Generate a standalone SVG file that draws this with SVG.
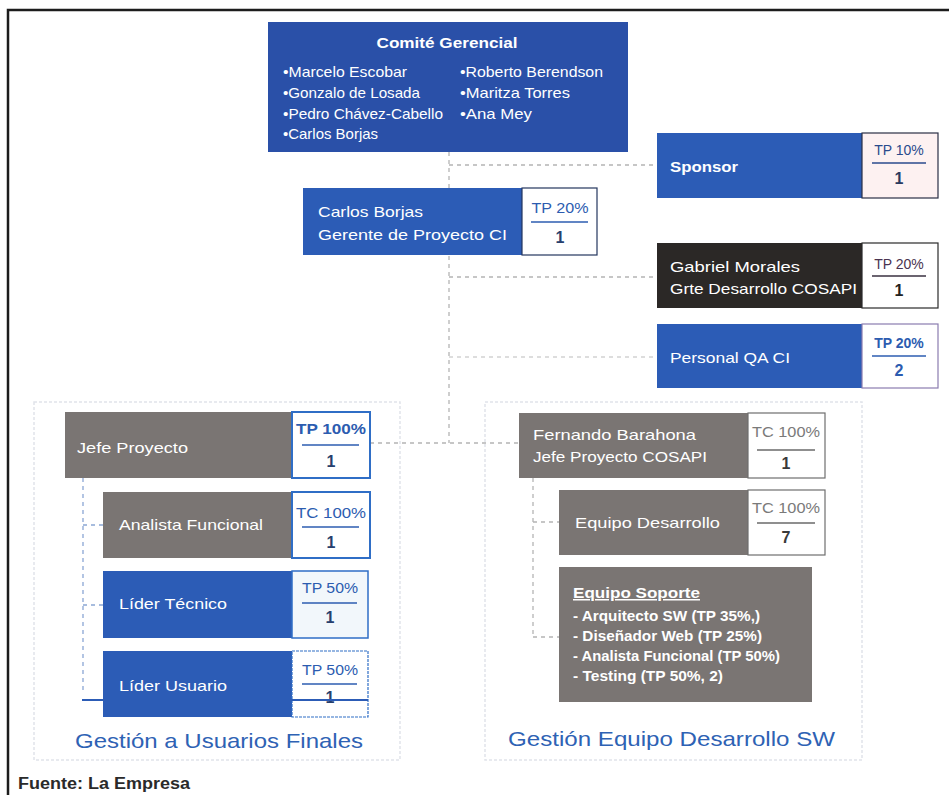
<svg xmlns="http://www.w3.org/2000/svg" width="949" height="795" viewBox="0 0 949 795">
  <style>
    .blue { fill: #2c5cb6; }
    .navy { fill: #2a50a8; }
    .dark { fill: #2b2826; }
    .grey { fill: #7a7573; }
    .lbl { font-family: "Liberation Sans", Arial, sans-serif; font-size: 15px; fill: #ffffff; }
    .lblb { font-family: "Liberation Sans", Arial, sans-serif; font-size: 15px; font-weight: bold; fill: #ffffff; }
    .tp { font-family: "Liberation Sans", Arial, sans-serif; font-size: 14px; text-anchor: middle; }
    .num { font-family: "Liberation Sans", Arial, sans-serif; font-size: 16px; font-weight: bold; text-anchor: middle; }
    .group { font-family: "Liberation Sans", Arial, sans-serif; font-size: 21px; fill: #2e62b4; }
    .conn { fill: none; stroke: #b4b4b4; stroke-width: 1.3; stroke-dasharray: 4 4; }
    .connb { fill: none; stroke: #8aa6d4; stroke-width: 1.3; stroke-dasharray: 4 4; }
    .area { fill: none; stroke: #e1e4ea; stroke-width: 1.5; stroke-dasharray: 3 2; }
  </style>

  <!-- page frame -->
  <rect x="0" y="0" width="949" height="795" fill="#ffffff"/>
  <path d="M8 795 V10 H949" fill="none" stroke="#1c1c1c" stroke-width="2.5"/>

  <!-- group areas -->
  <rect class="area" x="34" y="402" width="366" height="358"/>
  <rect class="area" x="485" y="402" width="377" height="358"/>

  <!-- connectors -->
  <g id="connectors">
    <path class="conn" d="M449 152 V443"/>
    <path class="conn" d="M449 165 H657"/>
    <path class="conn" d="M449 277 H657"/>
    <path class="conn" d="M449 357 H657" opacity="0.6"/>
    <path class="conn" d="M370 443 H519"/>
    <path class="connb" d="M83 478 V690 M83 525 H103 M83 605 H103"/>
    <path class="conn" d="M533 478 V637 M533 522 H559 M533 637 H559"/>
    <path d="M82 700 H368" stroke="#2c5cb6" stroke-width="2"/>
  </g>

  <!-- Comité Gerencial -->
  <g id="comite">
    <rect class="navy" x="268" y="22" width="360" height="130"/>
    <text class="lblb" x="447" y="48" text-anchor="middle" font-size="16" textLength="141" lengthAdjust="spacingAndGlyphs">Comité Gerencial</text>
    <text class="lbl" x="283" y="77" font-size="14" textLength="124" lengthAdjust="spacingAndGlyphs">•Marcelo Escobar</text>
    <text class="lbl" x="283" y="98" font-size="14" textLength="137" lengthAdjust="spacingAndGlyphs">•Gonzalo de Losada</text>
    <text class="lbl" x="283" y="119" font-size="14" textLength="160" lengthAdjust="spacingAndGlyphs">•Pedro Chávez-Cabello</text>
    <text class="lbl" x="283" y="139" font-size="14" textLength="95" lengthAdjust="spacingAndGlyphs">•Carlos Borjas</text>
    <text class="lbl" x="460" y="77" font-size="14" textLength="143" lengthAdjust="spacingAndGlyphs">•Roberto Berendson</text>
    <text class="lbl" x="460" y="98" font-size="14" textLength="110" lengthAdjust="spacingAndGlyphs">•Maritza Torres</text>
    <text class="lbl" x="460" y="119" font-size="14" textLength="72" lengthAdjust="spacingAndGlyphs">•Ana Mey</text>
  </g>

  <!-- Sponsor -->
  <g id="sponsor">
    <rect class="blue" x="657" y="133" width="205" height="65"/>
    <text class="lblb" x="670" y="172" textLength="68" lengthAdjust="spacingAndGlyphs">Sponsor</text>
    <rect x="862" y="133" width="76" height="65" fill="#fdf1f1" stroke="#2a2f45" stroke-width="1.2"/>
    <text class="tp" x="899" y="155" fill="#2a4a8c">TP 10%</text>
    <line x1="872" y1="163" x2="926" y2="163" stroke="#2a4a8c" stroke-width="1.5"/>
    <text class="num" x="899" y="184" fill="#2a3a60">1</text>
  </g>

  <!-- Carlos Borjas -->
  <g id="gerente-proyecto">
    <rect class="blue" x="303" y="188" width="219" height="67"/>
    <text class="lbl" x="318" y="217" textLength="105" lengthAdjust="spacingAndGlyphs">Carlos Borjas</text>
    <text class="lbl" x="318" y="240" textLength="189" lengthAdjust="spacingAndGlyphs">Gerente de Proyecto CI</text>
    <rect x="522" y="188" width="75" height="67" fill="#ffffff" stroke="#24365e" stroke-width="1.2"/>
    <text class="tp" x="560" y="213" fill="#2c5cb0" textLength="57" lengthAdjust="spacingAndGlyphs">TP 20%</text>
    <line x1="531" y1="222" x2="588" y2="222" stroke="#2c5cb0" stroke-width="1.5"/>
    <text class="num" x="560" y="243" fill="#27406e">1</text>
  </g>

  <!-- Gabriel Morales -->
  <g id="gerente-cosapi">
    <rect class="dark" x="657" y="243" width="205" height="65"/>
    <text class="lbl" x="670" y="272" textLength="130" lengthAdjust="spacingAndGlyphs">Gabriel Morales</text>
    <text class="lbl" x="670" y="294" textLength="187" lengthAdjust="spacingAndGlyphs">Grte Desarrollo COSAPI</text>
    <rect x="862" y="243" width="76" height="65" fill="#ffffff" stroke="#2a2a2a" stroke-width="1.2"/>
    <text class="tp" x="899" y="269" fill="#4a3350">TP 20%</text>
    <line x1="872" y1="276" x2="926" y2="276" stroke="#3a3040" stroke-width="1.5"/>
    <text class="num" x="899" y="296" fill="#222222">1</text>
  </g>

  <!-- Personal QA CI -->
  <g id="personal-qa">
    <rect class="blue" x="657" y="324" width="205" height="64"/>
    <text class="lbl" x="670" y="363" textLength="120" lengthAdjust="spacingAndGlyphs">Personal QA CI</text>
    <rect x="862" y="324" width="76" height="64" fill="#ffffff" stroke="#8a7cb0" stroke-width="1.2"/>
    <text class="tp" x="899" y="348" fill="#2c5cb0" font-weight="bold">TP 20%</text>
    <line x1="872" y1="356" x2="926" y2="356" stroke="#2c5cb0" stroke-width="1.5"/>
    <text class="num" x="899" y="376" fill="#2c5cb0">2</text>
  </g>

  <!-- Jefe Proyecto -->
  <g id="jefe-proyecto">
    <rect class="grey" x="65" y="412" width="227" height="66"/>
    <text class="lbl" x="77" y="453" textLength="111" lengthAdjust="spacingAndGlyphs">Jefe Proyecto</text>
    <rect x="292" y="412" width="78" height="66" fill="#ffffff" stroke="#2f6ec6" stroke-width="2"/>
    <text class="tp" x="331" y="434" fill="#2c5cb0" font-weight="bold" textLength="70" lengthAdjust="spacingAndGlyphs">TP 100%</text>
    <line x1="302" y1="445" x2="359" y2="445" stroke="#2c5cb0" stroke-width="1.5"/>
    <text class="num" x="331" y="467" fill="#27406e">1</text>
  </g>

  <!-- Analista Funcional -->
  <g id="analista-funcional">
    <rect class="grey" x="103" y="492" width="189" height="66"/>
    <text class="lbl" x="119" y="530" textLength="144" lengthAdjust="spacingAndGlyphs">Analista Funcional</text>
    <rect x="292" y="492" width="78" height="66" fill="#ffffff" stroke="#2f6ec6" stroke-width="2"/>
    <text class="tp" x="331" y="518" fill="#2c5cb0" textLength="70" lengthAdjust="spacingAndGlyphs">TC 100%</text>
    <line x1="302" y1="527" x2="359" y2="527" stroke="#2c5cb0" stroke-width="1.5"/>
    <text class="num" x="331" y="548" fill="#27406e">1</text>
  </g>

  <!-- Líder Técnico -->
  <g id="lider-tecnico">
    <rect class="blue" x="103" y="571" width="189" height="67"/>
    <text class="lbl" x="119" y="609" textLength="108" lengthAdjust="spacingAndGlyphs">Líder Técnico</text>
    <rect x="292" y="571" width="76" height="67" fill="#f2f7fb" stroke="#2f6ec6" stroke-width="1.5"/>
    <text class="tp" x="330" y="593" fill="#2c5cb0" textLength="56" lengthAdjust="spacingAndGlyphs">TP 50%</text>
    <line x1="302" y1="603" x2="357" y2="603" stroke="#2c5cb0" stroke-width="1.5"/>
    <text class="num" x="330" y="623" fill="#27406e">1</text>
  </g>

  <!-- Líder Usuario -->
  <g id="lider-usuario">
    <rect class="blue" x="103" y="651" width="189" height="66"/>
    <text class="lbl" x="119" y="691" textLength="108" lengthAdjust="spacingAndGlyphs">Líder Usuario</text>
    <rect x="292" y="651" width="76" height="66" fill="#ffffff" stroke="#2f6ec6" stroke-width="1.2" stroke-dasharray="3 1"/>
    <text class="tp" x="330" y="675" fill="#2c5cb0" textLength="56" lengthAdjust="spacingAndGlyphs">TP 50%</text>
    <line x1="302" y1="684" x2="357" y2="684" stroke="#2c5cb0" stroke-width="1.5"/>
    <text class="num" x="330" y="703" fill="#27406e">1</text>
  </g>
  <path d="M82 700 H368" stroke="#2c5cb6" stroke-width="2"/>

  <!-- Fernando Barahona -->
  <g id="jefe-cosapi">
    <rect class="grey" x="519" y="413" width="229" height="65"/>
    <text class="lbl" x="533" y="440" textLength="163" lengthAdjust="spacingAndGlyphs">Fernando Barahona</text>
    <text class="lbl" x="533" y="462" textLength="174" lengthAdjust="spacingAndGlyphs">Jefe Proyecto COSAPI</text>
    <rect x="748" y="413" width="77" height="65" fill="#ffffff" stroke="#6e6e6e" stroke-width="1.2"/>
    <text class="tp" x="786" y="437" fill="#7a7a7a" textLength="68" lengthAdjust="spacingAndGlyphs">TC 100%</text>
    <line x1="757" y1="450" x2="815" y2="450" stroke="#6a6a6a" stroke-width="1.5"/>
    <text class="num" x="786" y="469" fill="#3a3a3a">1</text>
  </g>

  <!-- Equipo Desarrollo -->
  <g id="equipo-desarrollo">
    <rect class="grey" x="559" y="490" width="189" height="65"/>
    <text class="lbl" x="575" y="528" textLength="145" lengthAdjust="spacingAndGlyphs">Equipo Desarrollo</text>
    <rect x="748" y="490" width="77" height="65" fill="#ffffff" stroke="#6e6e6e" stroke-width="1.2"/>
    <text class="tp" x="786" y="513" fill="#7a7a7a" textLength="68" lengthAdjust="spacingAndGlyphs">TC 100%</text>
    <line x1="757" y1="523" x2="815" y2="523" stroke="#6a6a6a" stroke-width="1.5"/>
    <text class="num" x="786" y="543" fill="#3a3a3a">7</text>
  </g>

  <!-- Equipo Soporte -->
  <g id="equipo-soporte">
    <rect class="grey" x="559" y="567" width="253" height="135"/>
    <text class="lblb" x="573" y="598" font-size="14" text-decoration="underline" textLength="127" lengthAdjust="spacingAndGlyphs">Equipo Soporte</text>
    <text class="lblb" x="573" y="621" font-size="13" textLength="187" lengthAdjust="spacingAndGlyphs">- Arquitecto SW (TP 35%,)</text>
    <text class="lblb" x="573" y="641" font-size="13" textLength="189" lengthAdjust="spacingAndGlyphs">- Diseñador Web (TP 25%)</text>
    <text class="lblb" x="573" y="661" font-size="13" textLength="207" lengthAdjust="spacingAndGlyphs">- Analista Funcional (TP 50%)</text>
    <text class="lblb" x="573" y="681" font-size="13" textLength="150" lengthAdjust="spacingAndGlyphs">- Testing (TP 50%, 2)</text>
  </g>

  <!-- group titles -->
  <text class="group" x="75" y="748" textLength="288" lengthAdjust="spacingAndGlyphs">Gestión a Usuarios Finales</text>
  <text class="group" x="508" y="746" textLength="327" lengthAdjust="spacingAndGlyphs">Gestión Equipo Desarrollo SW</text>

  <!-- source note -->
  <text x="18" y="789" font-family="Liberation Sans, Arial, sans-serif" font-size="16" font-weight="bold" fill="#2a2a2a" textLength="172" lengthAdjust="spacingAndGlyphs">Fuente: La Empresa</text>
</svg>
